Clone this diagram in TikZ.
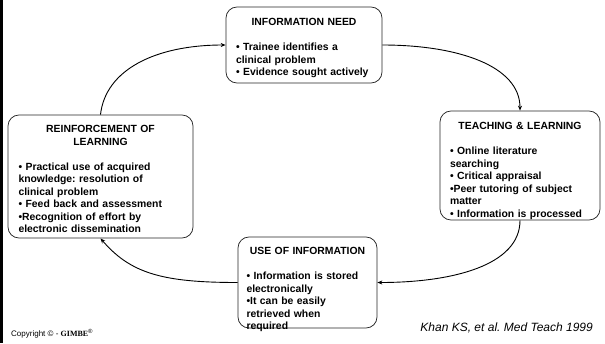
\documentclass[tikz,border=0pt]{standalone}
\usepackage{fontspec}
\setmainfont{Liberation Sans}
\newfontfamily\gimbefont{Liberation Serif}
\usetikzlibrary{arrows.meta}
\frenchspacing
\begin{document}
\begin{tikzpicture}[x=1pt,y=-1pt,
  box/.style={draw=black!85, line width=0.75pt, rounded corners=11pt, inner sep=0pt},
  boxtext/.style={anchor=north, inner sep=0pt, font=\bfseries\frenchspacing\fontsize{10.4pt}{12.5pt}\selectfont, text width=#1},
  flow/.style={-{Stealth[length=5pt,width=4pt]}, line width=0.9pt, black}]
\useasboundingbox (0,0) rectangle (605,343);
\fill[black] (0,0) rectangle (3,343);
% boxes
\node[box, minimum width=156pt, minimum height=76pt] (info) at (304,45) {};
\node[box, minimum width=185pt, minimum height=123pt] (reinf) at (100.5,176.5) {};
\node[box, minimum width=160pt, minimum height=109pt] (teach) at (520,165.5) {};
\node[box, minimum width=139pt, minimum height=91pt] (use) at (307.5,282.5) {};
% texts
\node[boxtext=136pt] (infoT) at ([yshift=-10pt]info.north) {{\centering\rule{0pt}{9pt}INFORMATION NEED\par}\vspace{12.5pt}\raggedright
• Trainee identifies a\\clinical problem\\• Evidence sought actively};
\node[boxtext=164pt] (reinfT) at ([yshift=-9pt]reinf.north) {{\centering\rule{0pt}{9pt}REINFORCEMENT OF\\LEARNING\par}\vspace{12.5pt}\raggedright
• Practical use of acquired\\knowledge: resolution of\\clinical problem\\• Feed back and assessment\\•Recognition of effort by\\electronic dissemination};
\node[boxtext=140pt] (teachT) at ([yshift=-10pt]teach.north) {{\centering\rule{0pt}{9pt}TEACHING \& LEARNING\par}\vspace{12.5pt}\raggedright
• Online literature\\searching\\• Critical appraisal\\•Peer tutoring of subject\\matter\\• Information is processed};
\node[boxtext=122pt] (useT) at ([yshift=-9pt]use.north) {{\centering\rule{0pt}{9pt}USE OF INFORMATION\par}\vspace{12.5pt}\raggedright
• Information is stored\\electronically\\•It can be easily\\retrieved when\\required};
% connectors
\draw[flow] (info.east) .. controls +(75,0) and +(0,-45) .. (teach.north);
\draw[flow] (teach.south) .. controls +(0,45) and +(75,0) .. (use.east);
\draw[flow] (use.west) .. controls +(-75,0) and +(30,35) .. (reinf.south);
\draw[flow] (reinf.north) .. controls +(5,-45) and +(-70,0) .. (info.west);
% footer
\node[anchor=base west, inner sep=0pt, font=\fontsize{8pt}{9pt}\selectfont] (copy) at (11,336) {Copyright © - {\gimbefont\bfseries GIMBE}\textsuperscript{®}};
\node[anchor=base east, inner sep=0pt, font=\itshape\fontsize{12pt}{14pt}\selectfont] (cite) at (593,331) {Khan KS, et al. Med Teach 1999};
\end{tikzpicture}
\end{document}
